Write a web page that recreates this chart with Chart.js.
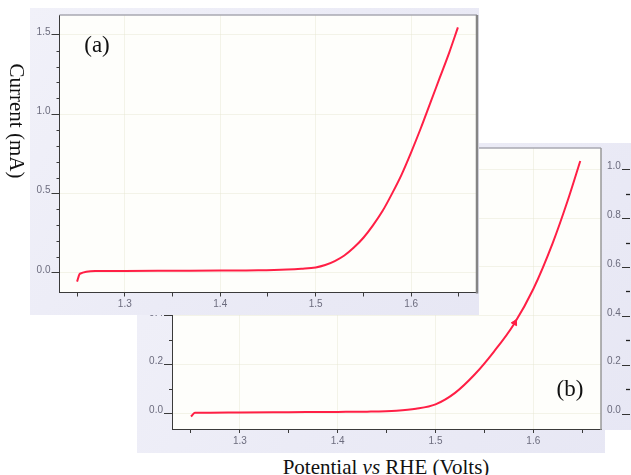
<!DOCTYPE html>
<html>
<head>
<meta charset="utf-8">
<script src="https://cdn.jsdelivr.net/npm/chart.js@4/dist/chart.umd.min.js"></script>
<style>
  html, body { margin: 0; padding: 0; background: #fff; width: 631px; height: 475px; overflow: hidden; position: relative; }
  canvas { position: absolute; }
  #chartB { left: 137px; top: 143px; z-index: 1; }
  #chartA { left: 30px; top: 8px; z-index: 2; }
  .lbl { position: absolute; font-family: "Liberation Serif", "Times New Roman", serif; color: #111; white-space: nowrap; z-index: 3; line-height: 1.15; }
  #ylab { left: 17px; top: 121px; font-size: 21px; transform: translate(-50%, -50%) rotate(90deg); }
  #xlab { left: 386px; top: 467px; font-size: 21px; transform: translate(-50%, -50%); }
  #tagA { left: 97px; top: 45px; font-size: 23px; transform: translate(-50%, -50%); }
  #tagB { left: 570px; top: 389px; font-size: 23px; transform: translate(-50%, -50%); }
</style>
</head>
<body>
<canvas id="chartB" width="494" height="310"></canvas>
<canvas id="chartA" width="449" height="307"></canvas>
<div class="lbl" id="ylab">Current (mA)</div>
<div class="lbl" id="xlab">Potential <i>vs</i> RHE (Volts)</div>
<div class="lbl" id="tagA">(a)</div>
<div class="lbl" id="tagB">(b)</div>
<script>
// Polarisation curve (a): potential (V vs RHE) and current (mA)
const potentialA = [1.250, 1.253, 1.270, 1.300, 1.350, 1.400, 1.440, 1.470, 1.485, 1.500, 1.510, 1.520, 1.530, 1.540, 1.550, 1.560, 1.570, 1.580, 1.590, 1.600, 1.610, 1.620, 1.630, 1.640, 1.649];
const currentA   = [-0.055, -0.005, 0.012, 0.013, 0.014, 0.015, 0.017, 0.022, 0.027, 0.035, 0.050, 0.075, 0.110, 0.160, 0.222, 0.300, 0.390, 0.500, 0.620, 0.760, 0.910, 1.070, 1.230, 1.390, 1.547];

// Polarisation curve (b)
const potentialB = [1.250, 1.254, 1.270, 1.300, 1.350, 1.400, 1.430, 1.460, 1.480, 1.500, 1.520, 1.540, 1.560, 1.580, 1.600, 1.620, 1.635, 1.648];
const currentB   = [-0.012, 0.003, 0.004, 0.005, 0.006, 0.007, 0.008, 0.012, 0.020, 0.038, 0.085, 0.160, 0.255, 0.365, 0.510, 0.700, 0.870, 1.034];

// sweep-direction arrowhead on curve (b)
const sweepMarkPotentialB = [1.581];
const sweepMarkCurrentB   = [0.372];

// ticks
const xTickValues = [1.25, 1.30, 1.35, 1.40, 1.45, 1.50, 1.55, 1.60, 1.65];
const xTickLabels = ['', '1.3', '', '1.4', '', '1.5', '', '1.6', ''];
const yTickValuesA = [0.0, 0.1, 0.2, 0.3, 0.4, 0.5, 0.6, 0.7, 0.8, 0.9, 1.0, 1.1, 1.2, 1.3, 1.4, 1.5];
const yTickLabelsA = ['0.0', '', '', '', '', '0.5', '', '', '', '', '1.0', '', '', '', '', '1.5'];
const yTickValuesB = [0.0, 0.1, 0.2, 0.3, 0.4, 0.5, 0.6, 0.7, 0.8, 0.9, 1.0];
const yTickLabelsB = ['0.0', '', '0.2', '', '0.4', '', '0.6', '', '0.8', '', '1.0'];

const RED = '#ff1f45';
const AXIS = '#3a3a3a';
const TICK_TEXT = '#6c6c7e';
const FAINT_GRID = 'rgba(228, 228, 205, 0.4)';
const tickFont = { family: '"Liberation Sans", Arial, sans-serif', size: 10 };

const toPoints = (xs, ys) => xs.map((x, i) => ({ x, y: ys[i] }));

// keep the plotting area exactly where the axis sizes put it
function fixSize(s, dim, value) {
  s[dim] = value;
  s.paddingTop = 0; s.paddingBottom = 0; s.paddingLeft = 0; s.paddingRight = 0;
}

// lavender panel backdrop, white plotting area, grey frame on top and right
const panelBackdrop = {
  id: 'panelBackdrop',
  beforeDraw(chart, args, opts) {
    const { ctx, chartArea: a, width, height } = chart;
    ctx.save();
    const g = ctx.createLinearGradient(0, 0, width, height);
    g.addColorStop(0, '#f1f1f9');
    g.addColorStop(0.5, '#ebebf6');
    g.addColorStop(1, '#e7e7f4');
    ctx.fillStyle = g;
    ctx.fillRect(0, 0, width, height);
    if (opts.whiteCorner) {
      ctx.fillStyle = '#ffffff';
      ctx.fillRect(a.right + 4, a.bottom + 1, width, height);
    }
    ctx.fillStyle = '#fefefb';
    ctx.fillRect(a.left, a.top, a.right - a.left, a.bottom - a.top);
    ctx.restore();
  },
  afterDraw(chart, args, opts) {
    const { ctx, chartArea: a } = chart;
    ctx.save();
    ctx.strokeStyle = '#a9a9b2';
    ctx.lineWidth = 1.5;
    ctx.beginPath();
    ctx.moveTo(a.left, a.top);
    ctx.lineTo(a.right, a.top);
    ctx.stroke();
    ctx.strokeStyle = opts.rightColor || '#888';
    ctx.lineWidth = opts.rightWidth || 2;
    ctx.beginPath();
    ctx.moveTo(a.right, a.top);
    ctx.lineTo(a.right, a.bottom + 1);
    ctx.stroke();
    ctx.restore();
  }
};

// short extra tick marks placed relative to an axis
const extraTicks = {
  id: 'extraTicks',
  afterDraw(chart, args, opts) {
    const { ctx } = chart;
    ctx.save();
    (opts.items || []).forEach(it => {
      const s = chart.scales[it.scale];
      ctx.strokeStyle = it.color || AXIS;
      ctx.lineWidth = it.width || 1;
      it.values.forEach(v => {
        const y = Math.round(s.getPixelForValue(v)) + 0.5;
        const base = it.from === 'right' ? s.right : s.left;
        ctx.beginPath();
        ctx.moveTo(base + it.x0, y);
        ctx.lineTo(base + it.x1, y);
        ctx.stroke();
      });
    });
    ctx.restore();
  }
};

function xScale(min, max, height) {
  return {
    type: 'linear', min, max,
    afterBuildTicks: s => { s.ticks = xTickValues.map(v => ({ value: v })); },
    afterFit: s => fixSize(s, 'height', height),
    border: { color: AXIS, width: 1 },
    grid: {
      color: c => (xTickLabels[c.index] ? FAINT_GRID : 'rgba(0,0,0,0)'),
      tickColor: AXIS, tickLength: 4
    },
    ticks: {
      autoSkip: false, maxRotation: 0, padding: 2, color: TICK_TEXT, font: tickFont,
      callback: (v, i) => xTickLabels[i]
    }
  };
}

function yScale(min, max, values, labels, width) {
  return {
    type: 'linear', position: 'left', min, max,
    afterBuildTicks: s => { s.ticks = values.map(v => ({ value: v })); },
    afterFit: s => fixSize(s, 'width', width),
    border: { color: AXIS, width: 1 },
    grid: {
      color: c => (labels[c.index] ? FAINT_GRID : 'rgba(0,0,0,0)'),
      tickColor: c => (labels[c.index] ? AXIS : 'rgba(0,0,0,0)'),
      tickLength: 8
    },
    ticks: {
      autoSkip: false, padding: 1, labelOffset: -3, color: TICK_TEXT, font: tickFont,
      callback: (v, i) => labels[i]
    }
  };
}

const lineStyle = {
  borderColor: RED, backgroundColor: RED, borderWidth: 2,
  pointRadius: 0, cubicInterpolationMode: 'monotone', fill: false
};

// ---- panel (a) ----
new Chart(document.getElementById('chartA'), {
  type: 'line',
  data: { datasets: [{ ...lineStyle, data: toPoints(potentialA, currentA) }] },
  options: {
    responsive: false, animation: false, devicePixelRatio: 1,
    layout: { padding: { top: 7, right: 2, left: 0, bottom: 0 } },
    plugins: {
      legend: { display: false }, tooltip: { enabled: false },
      panelBackdrop: { rightColor: '#858585', rightWidth: 2.5 },
      extraTicks: { items: [
        { scale: 'y', values: yTickValuesA.filter((v, i) => !yTickLabelsA[i]), from: 'right', x0: -3, x1: 0 }
      ] }
    },
    scales: {
      x: xScale(1.2316, 1.669, 22.5),
      y: yScale(-0.123, 1.625, yTickValuesA, yTickLabelsA, 29.5)
    }
  },
  plugins: [panelBackdrop, extraTicks]
});

// ---- panel (b) ----
new Chart(document.getElementById('chartB'), {
  type: 'line',
  data: {
    datasets: [
      { ...lineStyle, data: toPoints(potentialB, currentB) },
      {
        data: toPoints(sweepMarkPotentialB, sweepMarkCurrentB), showLine: false,
        pointStyle: 'triangle', pointRadius: 3.5, pointRotation: 28,
        pointBackgroundColor: RED, pointBorderColor: RED, pointBorderWidth: 1
      }
    ]
  },
  options: {
    responsive: false, animation: false, devicePixelRatio: 1,
    layout: { padding: { top: 2, right: 0, left: 0, bottom: 0 } },
    plugins: {
      legend: { display: false }, tooltip: { enabled: false },
      panelBackdrop: { whiteCorner: true, rightColor: '#999', rightWidth: 1.5 },
      extraTicks: { items: [
        { scale: 'y', values: yTickValuesB.filter((v, i) => !yTickLabelsB[i]), from: 'right', x0: -3, x1: 0 },
        { scale: 'y2', values: yTickValuesB.filter((v, i) => yTickLabelsB[i]), from: 'left', x0: 21, x1: 29, color: '#333' },
        { scale: 'y2', values: yTickValuesB.filter((v, i) => !yTickLabelsB[i]), from: 'left', x0: 25, x1: 29, color: '#222', width: 1.3 }
      ] }
    },
    scales: {
      x: xScale(1.2306, 1.6692, 24),
      y: yScale(-0.063, 1.087, yTickValuesB, yTickLabelsB, 35),
      y2: {
        type: 'linear', position: 'right', min: -0.063, max: 1.087,
        afterBuildTicks: s => { s.ticks = yTickValuesB.map(v => ({ value: v })); },
        afterFit: s => fixSize(s, 'width', 30),
        border: { display: false },
        grid: { drawOnChartArea: false, drawTicks: false },
        ticks: {
          autoSkip: false, padding: 6, labelOffset: -3, color: TICK_TEXT, font: tickFont,
          callback: (v, i) => yTickLabelsB[i]
        }
      }
    }
  },
  plugins: [panelBackdrop, extraTicks]
});
</script>
</body>
</html>
